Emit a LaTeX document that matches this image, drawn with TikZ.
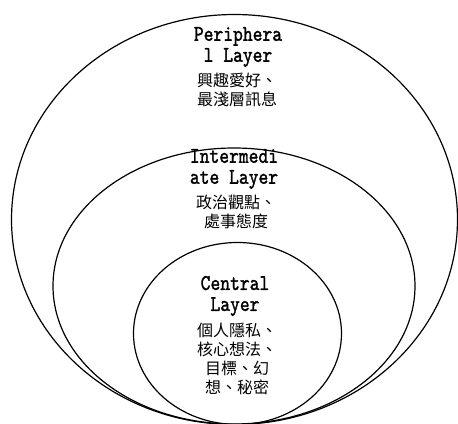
\documentclass[tikz,border=0pt]{standalone}
\usepackage{fontspec}
\usepackage{graphicx}
\usetikzlibrary{shapes.geometric}
\newfontfamily\cjkfont{Noto Sans CJK TC}
\newfontfamily\enfont{lmmono10-regular}[Extension=.otf, AutoFakeBold=1.6]
\newcommand{\tallline}[1]{\scalebox{1}[1.2]{#1}}
\tikzset{
  layer/.style={draw=black, line width=0.9pt},
  entext/.style={align=center, inner sep=0pt, font=\enfont\bfseries\fontsize{14pt}{15.75pt}\selectfont},
  zhtext/.style={align=center, inner sep=0pt, font=\cjkfont\fontsize{12pt}{14.25pt}\selectfont},
}
\begin{document}
\begin{tikzpicture}[x=0.75pt, y=-0.75pt]
\useasboundingbox (0,0) rectangle (458,424);
\clip (0,0) rectangle (458,424);
\coordinate (outerc) at (234.5,219.5);
\coordinate (middlec) at (234,286);
\coordinate (innerc) at (237.5,333.5);
\draw[layer] (outerc) ellipse [x radius=167.25pt, y radius=153.75pt];
\draw[layer] (middlec) ellipse [x radius=135.75pt, y radius=103.5pt];
\draw[layer] (innerc) ellipse [x radius=78pt, y radius=68.25pt];

\node[entext] (pen) at (238,47) {\tallline{Periphera}\\\tallline{l Layer}};
\node[zhtext] (pzh) at (237,89.5) {興趣愛好、\\最淺層訊息};

\node[entext] (men) at (234,169) {\tallline{Intermedi}\\\tallline{ate Layer}};
\node[zhtext] (mzh) at (236,212) {政治觀點、\\處事態度};

\node[entext] (cen) at (235,296) {\tallline{Central}\\\tallline{Layer}};
\node[zhtext] (czh) at (237,358.5) {個人隱私、\\核心想法、\\目標、幻\\想、秘密};
\end{tikzpicture}
\end{document}
